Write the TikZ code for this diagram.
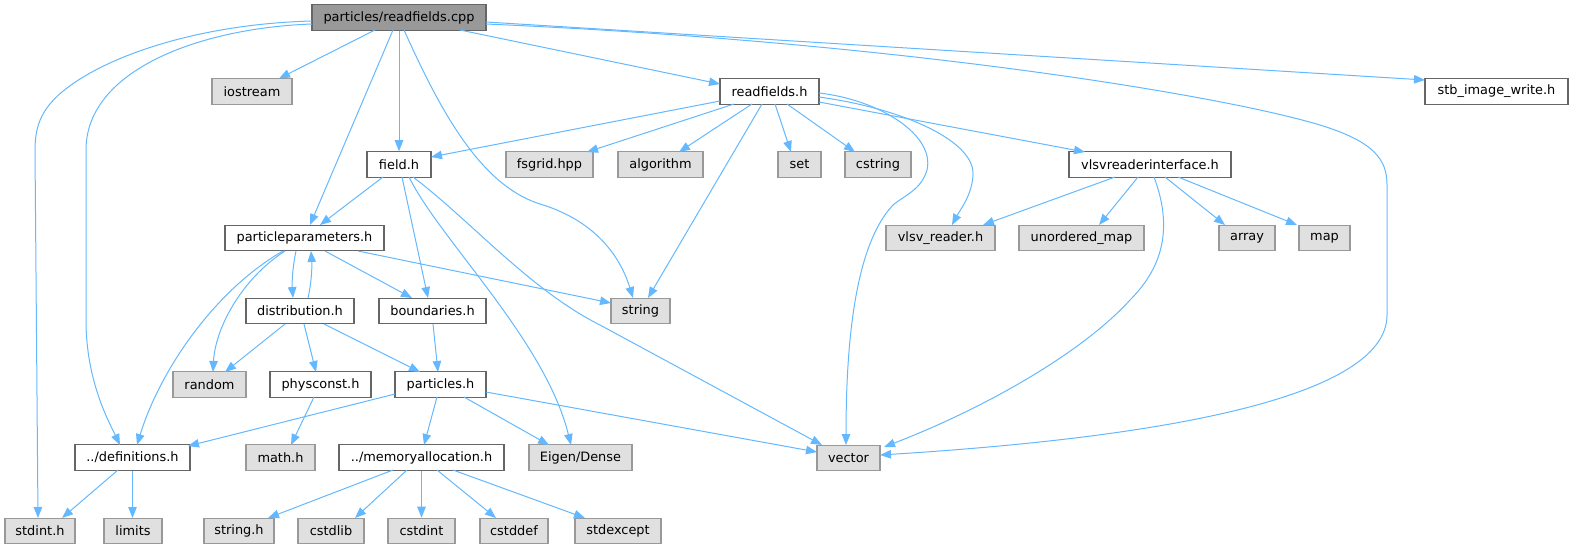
\documentclass[tikz,border=0pt]{standalone}
\usepackage{fontspec}
\setmainfont{DejaVu Sans}
\usetikzlibrary{arrows.meta}
\definecolor{edgeblue}{HTML}{63B8FF}
\definecolor{gfill}{HTML}{E0E0E0}
\definecolor{gborder}{HTML}{999999}
\definecolor{dborder}{HTML}{666666}
\definecolor{rootfill}{HTML}{999999}
\begin{document}
\begin{tikzpicture}[x=1pt,y=-1pt,
  box/.style={rectangle, inner sep=0pt, minimum height=25.5pt, font=\fontsize{12.9}{15}\selectfont, line width=1.1pt},
  wnode/.style={box, draw=dborder, fill=white},
  gnode/.style={box, draw=gborder, fill=gfill},
  rnode/.style={box, draw=dborder, fill=rootfill},
  dep/.style={draw=edgeblue, line width=1pt, -{Triangle[length=11pt,width=8.5pt]}},
]
\useasboundingbox (0,0) rectangle (1573,549);
% row 0
\node[rnode, minimum width=174pt] (root) at (399,17.5) {particles/readfields.cpp};
% row 1
\node[gnode, minimum width=80pt] (iostream) at (252,91.5) {iostream};
\node[wnode, minimum width=99pt] (rfh) at (769.5,91.5) {readfields.h};
\node[wnode, minimum width=143pt] (stb) at (1496.5,91.5) {stb\_image\_write.h};
% row 2
\node[wnode, minimum width=64pt] (field) at (399,164.5) {field.h};
\node[gnode, minimum width=87pt] (fsgrid) at (549.5,164.5) {fsgrid.hpp};
\node[gnode, minimum width=85pt] (algorithm) at (660.5,164.5) {algorithm};
\node[gnode, minimum width=43pt] (set) at (799.5,164.5) {set};
\node[gnode, minimum width=66pt] (cstring) at (878,164.5) {cstring};
\node[wnode, minimum width=162pt] (vri) at (1150,164.5) {vlsvreaderinterface.h};
% row 3
\node[wnode, minimum width=159pt] (pp) at (304.5,238) {particleparameters.h};
\node[gnode, minimum width=109pt] (vlsv) at (940.5,238) {vlsv\_reader.h};
\node[gnode, minimum width=125pt] (umap) at (1081.5,238) {unordered\_map};
\node[gnode, minimum width=56pt] (array) at (1247,238) {array};
\node[gnode, minimum width=51pt] (map) at (1324.5,238) {map};
% row 4
\node[wnode, minimum width=108pt] (dist) at (300,311) {distribution.h};
\node[wnode, minimum width=107pt] (bound) at (432.5,311) {boundaries.h};
\node[gnode, minimum width=59pt] (string) at (640.5,311) {string};
% row 5
\node[gnode, minimum width=73pt] (random) at (209.5,384.5) {random};
\node[wnode, minimum width=101pt] (physconst) at (320.5,384.5) {physconst.h};
\node[wnode, minimum width=91pt] (particles) at (440.5,384.5) {particles.h};
% row 6
\node[wnode, minimum width=115pt] (defs) at (132.5,457.5) {../definitions.h};
\node[gnode, minimum width=69pt] (math) at (280.5,457.5) {math.h};
\node[wnode, minimum width=165pt] (memalloc) at (421.5,457.5) {../memoryallocation.h};
\node[gnode, minimum width=103pt] (eigen) at (580.5,457.5) {Eigen/Dense};
\node[gnode, minimum width=63pt] (vector) at (848.5,458) {vector};
% row 7
\node[gnode, minimum width=70pt] (stdint) at (40,531) {stdint.h};
\node[gnode, minimum width=58pt] (limits) at (133,531) {limits};
\node[gnode, minimum width=70pt] (stringh) at (239,531) {string.h};
\node[gnode, minimum width=66pt] (cstdlib) at (331,531) {cstdlib};
\node[gnode, minimum width=67pt] (cstdint) at (421.5,531) {cstdint};
\node[gnode, minimum width=68pt] (cstddef) at (514,531) {cstddef};
\node[gnode, minimum width=86pt] (stdexcept) at (618,531) {stdexcept};

% root edges
\draw[dep] ([shift={(-24,12.5)}]root.center) -- ([shift={(27,-13)}]iostream.center);
\draw[dep] (root.south) -- (field.north);
\draw[dep] ([shift={(-6,12.5)}]root.center) -- ([shift={(5.5,-13)}]pp.center);
\draw[dep] ([shift={(5,12.5)}]root.center) .. controls (440,110) and (480,185) .. (540,204) .. controls (600,222) and (622,262) .. ([shift={(-7.5,-13)}]string.center);
\draw[dep] ([shift={(61,12.5)}]root.center) -- ([shift={(-49.5,-7.5)}]rfh.center);
\draw[dep] ([shift={(87,4.5)}]root.center) -- ([shift={(-71.5,-11.5)}]stb.center);
\draw[dep] ([shift={(87,6.5)}]root.center) .. controls (900,42) and (1220,95) .. (1320,125) .. controls (1375,142) and (1387,160) .. (1387,185) -- (1387,315) .. controls (1387,390) and (1200,435) .. ([shift={(31.5,-3)}]vector.center);
\draw[dep] ([shift={(-87,6.5)}]root.center) .. controls (200,28) and (86,70) .. (86,150) -- (86,320) .. controls (86,380) and (108,420) .. ([shift={(-12.5,-12.5)}]defs.center);
\draw[dep] ([shift={(-87,3.5)}]root.center) .. controls (200,24) and (110,55) .. (67,88) .. controls (42,107) and (35,125) .. (35,150) -- ([shift={(-2,-13)}]stdint.center);
% readfields.h edges
\draw[dep] ([shift={(-49.5,9.5)}]rfh.center) -- ([shift={(32,-7.5)}]field.center);
\draw[dep] ([shift={(-35.5,12.5)}]rfh.center) -- ([shift={(37.5,-12.5)}]fsgrid.center);
\draw[dep] ([shift={(-17.5,12.5)}]rfh.center) -- ([shift={(18.5,-12.5)}]algorithm.center);
\draw[dep] ([shift={(-7.5,12.5)}]rfh.center) -- ([shift={(7.5,-13)}]string.center);
\draw[dep] ([shift={(5.5,12.5)}]rfh.center) -- ([shift={(-8.5,-12.5)}]set.center);
\draw[dep] ([shift={(17.5,12.5)}]rfh.center) -- ([shift={(-23,-12.5)}]cstring.center);
\draw[dep] ([shift={(49.5,1.5)}]rfh.center) .. controls (880,100) and (935,135) .. (927,170) .. controls (921,190) and (905,195) .. (893,205) .. controls (860,240) and (846,320) .. ([shift={(-2.5,-13)}]vector.center);
\draw[dep] ([shift={(49.5,5.5)}]rfh.center) .. controls (900,108) and (975,140) .. (973,175) .. controls (972,195) and (960,210) .. ([shift={(11.5,-13)}]vlsv.center);
\draw[dep] ([shift={(49.5,10.5)}]rfh.center) -- ([shift={(-65,-12.5)}]vri.center);
% field.h edges
\draw[dep] ([shift={(-16,12.5)}]field.center) -- ([shift={(15.5,-13)}]pp.center);
\draw[dep] ([shift={(3,12.5)}]field.center) -- ([shift={(-4.5,-13)}]bound.center);
\draw[dep] ([shift={(10,12.5)}]field.center) .. controls (440,240) and (545,340) .. ([shift={(-9.5,-12.5)}]eigen.center);
\draw[dep] ([shift={(14,12.5)}]field.center) .. controls (470,220) and (530,290) .. (600,325) -- ([shift={(-26.5,-13)}]vector.center);
% particleparameters.h edges
\draw[dep] ([shift={(-8.5,13)}]pp.center) .. controls (292,270) and (292,285) .. ([shift={(-7,-13)}]dist.center);
\draw[dep] ([shift={(8,-13)}]dist.center) .. controls (312,280) and (312,265) .. ([shift={(6.5,13)}]pp.center);
\draw[dep] ([shift={(20.5,13)}]pp.center) -- ([shift={(-20.5,-13)}]bound.center);
\draw[dep] ([shift={(53.5,13)}]pp.center) -- ([shift={(-29.5,-8)}]string.center);
\draw[dep] ([shift={(-19.5,13)}]pp.center) .. controls (240,280) and (215,330) .. ([shift={(3.5,-12.5)}]random.center);
\draw[dep] ([shift={(-21.5,13)}]pp.center) .. controls (215,290) and (160,370) .. ([shift={(4.5,-12.5)}]defs.center);
% distribution.h edges
\draw[dep] ([shift={(-15,13)}]dist.center) -- ([shift={(15.5,-12.5)}]random.center);
\draw[dep] ([shift={(4,13)}]dist.center) -- ([shift={(-4.5,-12.5)}]physconst.center);
\draw[dep] ([shift={(24,13)}]dist.center) -- ([shift={(-20.5,-12.5)}]particles.center);
\draw[dep] ([shift={(0.5,13)}]bound.center) -- ([shift={(-2.5,-12.5)}]particles.center);
\draw[dep] ([shift={(-6.5,12.5)}]physconst.center) -- ([shift={(10.5,-12.5)}]math.center);
% particles.h edges
\draw[dep] ([shift={(-45.5,9.5)}]particles.center) -- ([shift={(55.5,-11.5)}]defs.center);
\draw[dep] ([shift={(-3.5,12.5)}]particles.center) -- ([shift={(2.5,-12.5)}]memalloc.center);
\draw[dep] ([shift={(23.5,12.5)}]particles.center) -- ([shift={(-31.5,-12.5)}]eigen.center);
\draw[dep] ([shift={(45.5,7.5)}]particles.center) -- ([shift={(-31.5,-6)}]vector.center);
% definitions.h edges
\draw[dep] ([shift={(-14.5,12.5)}]defs.center) -- ([shift={(22,-13)}]stdint.center);
\draw[dep] (defs.south) -- ([shift={(-0.5,-13)}]limits.center);
% memoryallocation.h edges
\draw[dep] ([shift={(-28.5,12.5)}]memalloc.center) -- ([shift={(29,-13)}]stringh.center);
\draw[dep] ([shift={(-14.5,12.5)}]memalloc.center) -- ([shift={(24,-13)}]cstdlib.center);
\draw[dep] (memalloc.south) -- (cstdint.north);
\draw[dep] ([shift={(15.5,12.5)}]memalloc.center) -- ([shift={(-18,-13)}]cstddef.center);
\draw[dep] ([shift={(31.5,12.5)}]memalloc.center) -- ([shift={(-33,-13)}]stdexcept.center);
% vlsvreaderinterface.h edges
\draw[dep] ([shift={(-35,12.5)}]vri.center) -- ([shift={(42.5,-13)}]vlsv.center);
\draw[dep] ([shift={(-12,12.5)}]vri.center) -- ([shift={(17.5,-13)}]umap.center);
\draw[dep] ([shift={(15,12.5)}]vri.center) -- ([shift={(-22,-13)}]array.center);
\draw[dep] ([shift={(28,12.5)}]vri.center) -- ([shift={(-27.5,-13)}]map.center);
\draw[dep] ([shift={(4,12.5)}]vri.center) .. controls (1172,225) and (1165,265) .. (1130,300) .. controls (1080,355) and (980,410) .. ([shift={(35.5,-11)}]vector.center);
\end{tikzpicture}
\end{document}
